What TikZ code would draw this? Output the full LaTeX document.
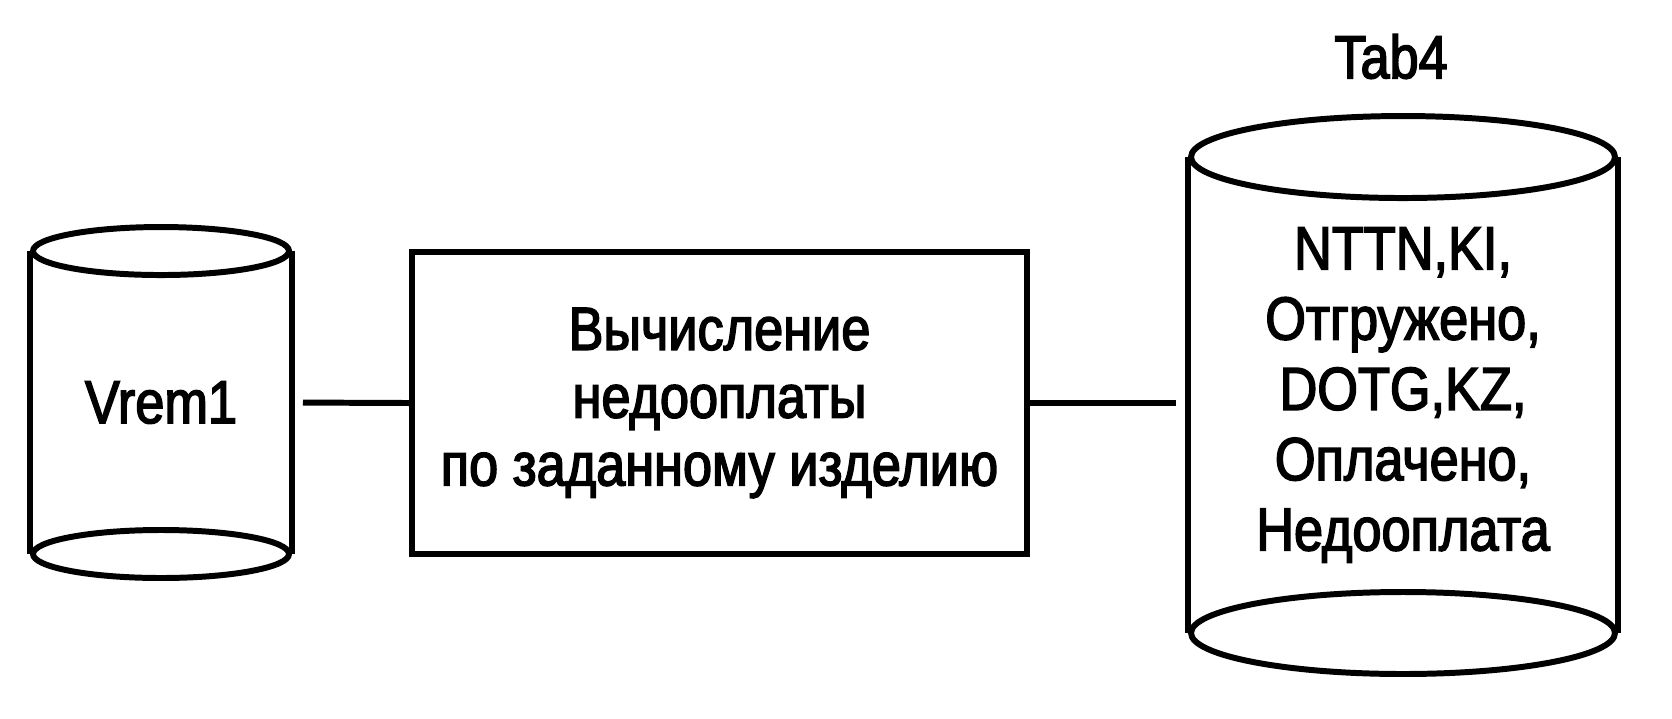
\documentclass[tikz,border=0pt]{standalone}
\usepackage{fontspec}
\setmainfont{Liberation Sans}[FakeStretch=0.86,FakeBold=2.5]
\usepackage{tikz}
\usetikzlibrary{arrows,shapes}

\begin{document}
\begin{tikzpicture}[line width=1.7pt,
		txt/.style={font=\fontsize{17.3}{19.3}\selectfont,align=center,inner sep=0pt},
		body/.style={txt,minimum width=#1,inner sep=0pt}]
		\useasboundingbox (0,0) rectangle (16.72,-7.18);
		\node[body=2.56cm,minimum height=2.97cm] (Vrem) at (1.61,-4.025) {Vrem1};
		\node[draw,txt,minimum width=6.15cm,minimum height=3.02cm] (Calc) at (7.195,-4.03) {Вычисление\\недооплаты\\по заданному изделию};
		\node[body=4.24cm,minimum height=4.70cm,font=\fontsize{17.3}{20}\selectfont] (Tab) at (14.03,-3.95) {NTTN,KI,\\Отгружено,\\DOTG,KZ,\\Оплачено,\\Недооплата};
		\node[txt] (TabName) at (13.91,-0.565) {Tab4};
		\draw (Vrem.north west) -- (Vrem.south west);
		\draw (Vrem.north east) -- (Vrem.south east);
		\draw (Vrem.north) ellipse (1.28 and 0.24);
		\draw (Vrem.south) ellipse (1.28 and 0.24);
		\draw (Tab.north west) -- (Tab.south west);
		\draw (Tab.north east) -- (Tab.south east);
		\draw (Tab.north) ellipse (2.12 and 0.41);
		\draw (Tab.south) ellipse (2.12 and 0.41);
		\draw[shorten <=0.11cm] (Vrem.east) -- (Calc.west);
		\draw[shorten >=0.12cm] (Calc.east) -- (Calc.east -| Tab.west);
	\end{tikzpicture}
\end{document}
